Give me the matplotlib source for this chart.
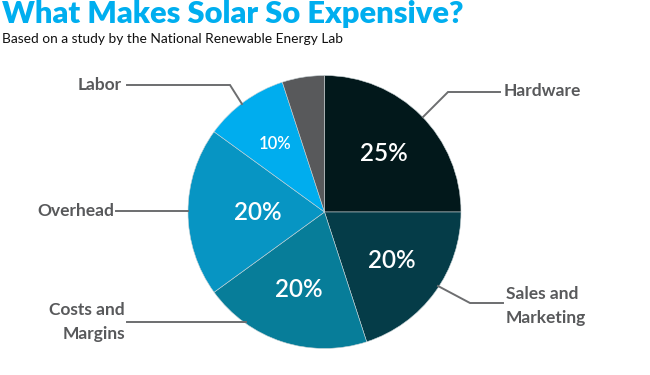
import numpy as np
import matplotlib
matplotlib.use("Agg")
import matplotlib.pyplot as plt

# slices, clockwise from 12 o'clock
labels = ["Hardware", "Sales and\nMarketing", "Costs and\nMargins", "Overhead", "Labor", ""]
values = [25, 20, 20, 20, 10, 5]
pct_text = ["25%", "20%", "20%", "20%", "10%", ""]
colors = ["#02181b", "#053c48", "#077d99", "#0795c3", "#00adee", "#58595b"]

title = "What Makes Solar So Expensive?"
subtitle = "Based on a study by the National Renewable Energy Lab"

W, H = 650, 375
fig = plt.figure(figsize=(6.5, 3.75), dpi=100)
ax = fig.add_axes([0, 0, 1, 1])

cx, cy, r = 324.5, H - 212, 136.5
wedges, _ = ax.pie(values, colors=colors, startangle=90, counterclock=False,
                   center=(cx, cy), radius=r, frame=True,
                   wedgeprops=dict(edgecolor="#c9d3d6", linewidth=0.4))
ax.set_xlim(0, W)
ax.set_ylim(0, H)
ax.set_aspect("equal")
ax.axis("off")

# percent labels inside slices
pct_dist = [0.61, 0.61, 0.60, 0.49, 0.62, 0]
pct_size = [17.5, 17.5, 17.5, 17.5, 12, 0]
for w, t, d, s in zip(wedges, pct_text, pct_dist, pct_size):
    if not t:
        continue
    ang = np.deg2rad((w.theta1 + w.theta2) / 2)
    ax.text(cx + d * r * np.cos(ang), cy + d * r * np.sin(ang), t,
            color="white", fontsize=s, fontfamily="Lato", fontweight="semibold",
            ha="center", va="center")

# leader lines and category labels (pixel coords, y from top)
lc = "#6d6e70"
leaders = {
    "Hardware": ([423, 448, 500], [117, 92, 92], 504, 91, "left"),
    "Sales and\nMarketing": ([438, 470, 503], [286, 303, 303], 506, 306, "left"),
    "Labor": ([242, 230, 127], [104, 85, 85], 122, 85, "right"),
    "Overhead": ([188, 116], [211, 211], 114, 211, "right"),
    "Costs and\nMargins": ([246, 127], [322, 322], 125, 322, "right"),
}
for lab in labels:
    if lab not in leaders:
        continue
    xs, ys, tx, ty, ha = leaders[lab]
    ax.plot(xs, [H - y for y in ys], color=lc, lw=1.4, solid_joinstyle="miter")
    ax.text(tx, H - ty, lab, color="#58595b", fontsize=12.5, fontfamily="Lato",
            fontweight="bold", ha=ha, va="center", linespacing=1.65)

fig.text(2 / W, 1 - 14 / H, title, color="#00aeef", fontsize=22.2,
         fontfamily="Lato", fontweight="heavy", ha="left", va="center")
fig.text(2 / W, 1 - 39 / H, subtitle, color="#111111", fontsize=9.9,
         fontfamily="Lato", ha="left", va="center")

fig.savefig("out.png", dpi=100)
